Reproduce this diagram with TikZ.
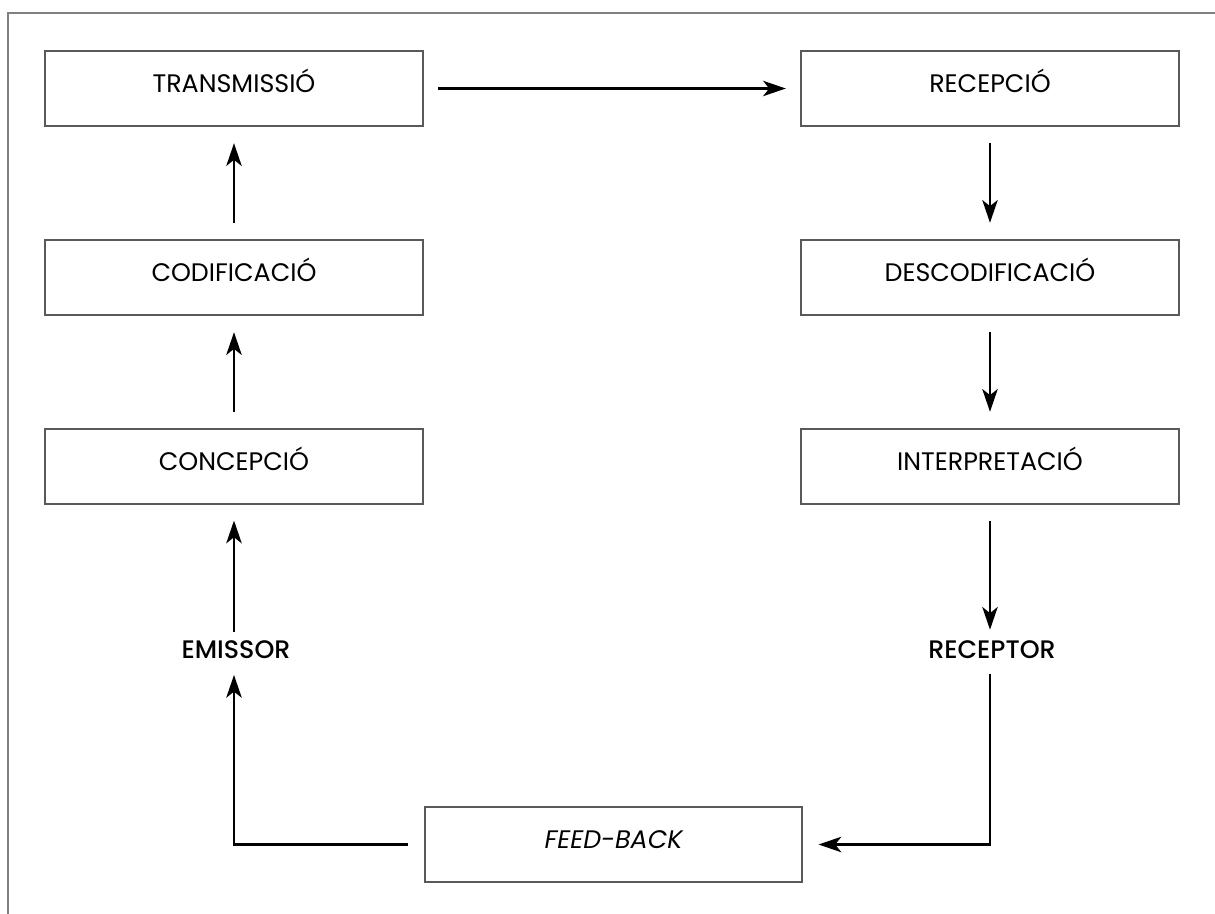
\documentclass[tikz,border=0pt]{standalone}
\usepackage{fontspec}
\setmainfont{Poppins}[BoldFont={Poppins Medium}]
\usetikzlibrary{arrows.meta}
\begin{document}
\begin{tikzpicture}[x=0.75pt,y=-0.75pt,
  stage/.style={draw=black!65, line width=0.8pt, minimum width=283.5pt, minimum height=56.25pt,
    inner sep=0pt, font=\fontsize{19}{22}\selectfont, text height=0.64em, text depth=0pt},
  lbl/.style={font=\fontsize{19}{22}\selectfont\bfseries, inner sep=0pt, text height=0.7em, text depth=0pt},
  flow/.style={line width=2.2pt, -{Stealth[length=17pt,width=11.5pt,inset=4.5pt]}},
  frame/.style={draw=black!50, line width=0.8pt},
]
\useasboundingbox (0,0) rectangle (1215,914);
\coordinate (ftop) at (1215,13);
\coordinate (fcorner) at (8,13);
\coordinate (fbottom) at (8,914);
\draw[frame] (ftop) -- (fcorner) -- (fbottom);

\node[stage] (trans) at (234,88.5) {TRANSMISSIÓ};
\node[stage] (codif) at (234,277.5) {CODIFICACIÓ};
\node[stage] (conc) at (234,466.5) {CONCEPCIÓ};
\node[stage] (recep) at (990,88.5) {RECEPCIÓ};
\node[stage] (desc) at (990,277.5) {DESCODIFICACIÓ};
\node[stage] (interp) at (990,466.5) {INTERPRETACIÓ};
\node[stage, minimum width=282.75pt] (feed) at (613.5,844.5) {\itshape FEED-BACK};
\node[lbl] (emis) at (236,654) {EMISSOR};
\node[lbl] (recpt) at (992,654) {RECEPTOR};

\draw[flow, line width=1.7pt, shorten <=11pt, shorten >=11pt] (trans.east) -- (recep.west);
\draw[flow, shorten <=12pt, shorten >=12.5pt] (codif.north) -- (trans.south);
\draw[flow, shorten <=12pt, shorten >=12.5pt] (conc.north) -- (codif.south);
\draw[flow, shorten <=13pt, shorten >=12pt] (emis.north -| conc.south) -- (conc.south);
\draw[flow, shorten <=12.5pt, shorten >=12pt] (feed.west) -| (emis.south -| conc.south);
\draw[flow, shorten <=12pt, shorten >=12.5pt] (recep.south) -- (desc.north);
\draw[flow, shorten <=12pt, shorten >=12.5pt] (desc.south) -- (interp.north);
\draw[flow, shorten <=12pt, shorten >=14.5pt] (interp.south) -- (recpt.north -| interp.south);
\draw[flow, shorten <=11pt, shorten >=12pt] (recpt.south -| interp.south) |- (feed.east);
\end{tikzpicture}
\end{document}
